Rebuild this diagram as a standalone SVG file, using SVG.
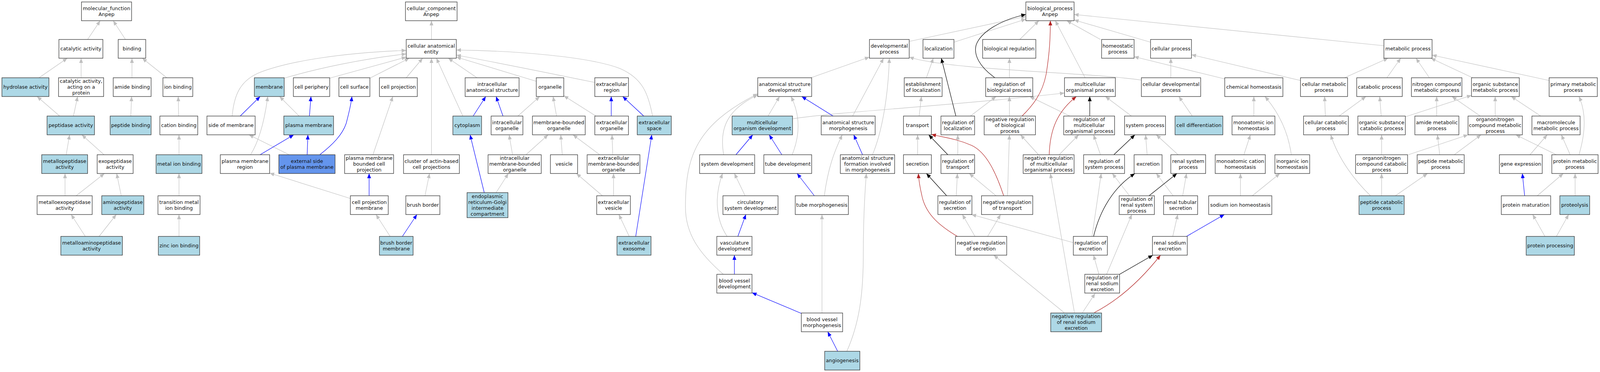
<svg xmlns="http://www.w3.org/2000/svg" width="4183" height="952" viewBox="0 0 4183 952" preserveAspectRatio="none" style="width:100%;height:100%">
<style>
.n rect{stroke:#333;stroke-width:1.3}
.w rect{fill:#fff}.b rect{fill:#add8e6}.c rect{fill:#6495ed}
text{font-family:"DejaVu Sans",sans-serif;font-size:13px;fill:#111;text-anchor:middle}
#edges path{fill:none;stroke-width:1.2}
.g{stroke:#c0c0c0;marker-end:url(#ag)}.u{stroke:#0000ff;marker-end:url(#ab)}.k{stroke:#000;marker-end:url(#ak)}.r{stroke:#b22222;marker-end:url(#ar)}
</style>
<defs>
<marker id="ag" viewBox="0 0 12 10" refX="12" refY="5" markerWidth="12" markerHeight="10" markerUnits="userSpaceOnUse" orient="auto"><path d="M0,0L12,5L0,10z" fill="#c0c0c0"/></marker>
<marker id="ab" viewBox="0 0 12 10" refX="12" refY="5" markerWidth="12" markerHeight="10" markerUnits="userSpaceOnUse" orient="auto"><path d="M0,0L12,5L0,10z" fill="#0000ff"/></marker>
<marker id="ak" viewBox="0 0 12 10" refX="12" refY="5" markerWidth="12" markerHeight="10" markerUnits="userSpaceOnUse" orient="auto"><path d="M0,0L12,5L0,10z" fill="#000"/></marker>
<marker id="ar" viewBox="0 0 12 10" refX="12" refY="5" markerWidth="12" markerHeight="10" markerUnits="userSpaceOnUse" orient="auto"><path d="M0,0L12,5L0,10z" fill="#b22222"/></marker>
</defs>
<rect x="0" y="0" width="4183" height="952" fill="#fff"/>
<g id="edges">
<path class="g" d="M229,101L262,53"/>
<path class="g" d="M328,101L296,53"/>
<path class="g" d="M102,199L176,149"/>
<path class="g" d="M212,198L212,149"/>
<path class="g" d="M345,199L345,149"/>
<path class="g" d="M436,199L372,149"/>
<path class="g" d="M156,297L97,247"/>
<path class="g" d="M192,297L203,247"/>
<path class="g" d="M342,297L344,247"/>
<path class="g" d="M467,297L466,247"/>
<path class="g" d="M173,396L182,345"/>
<path class="g" d="M272,396L214,345"/>
<path class="g" d="M468,396L468,345"/>
<path class="g" d="M170,501L170,444"/>
<path class="g" d="M199,501L273,444"/>
<path class="g" d="M317,501L305,444"/>
<path class="g" d="M468,501L468,444"/>
<path class="g" d="M223,605L186,549"/>
<path class="g" d="M259,605L304,549"/>
<path class="g" d="M468,605L468,549"/>
<path class="g" d="M1128,101L1128,53"/>
<path class="g" d="M607,297C612,240 630,205 680,185C760,155 900,135 1062,129"/>
<path class="g" d="M743,200C830,175 950,150 1062,138"/>
<path class="g" d="M862,200L1062,146"/>
<path class="g" d="M967,200L1070,149"/>
<path class="g" d="M1062,199L1105,149"/>
<path class="g" d="M1128,396L1128,149"/>
<path class="g" d="M1210,297L1141,149"/>
<path class="g" d="M1247,199L1172,149"/>
<path class="g" d="M1402,208L1193,146"/>
<path class="g" d="M1555,211C1450,190 1300,160 1193,141"/>
<path class="g" d="M1706,297C1695,240 1680,200 1620,175C1540,145 1350,130 1193,128"/>
<path class="g" d="M782,297L731,247"/>
<path class="g" d="M655,396C675,365 690,320 700,247"/>
<path class="g" d="M756,396L651,345"/>
<path class="g" d="M975,396L1027,247"/>
<path class="g" d="M916,508L705,443"/>
<path class="g" d="M1111,501L1123,444"/>
<path class="g" d="M1020,605L983,549"/>
<path class="g" d="M1354,297L1411,247"/>
<path class="g" d="M1455,297L1446,247"/>
<path class="g" d="M1558,297L1474,245"/>
<path class="g" d="M1297,493L1329,444"/>
<path class="g" d="M1340,396L1331,345"/>
<path class="g" d="M1375,396L1433,345"/>
<path class="g" d="M1470,396L1466,345"/>
<path class="g" d="M1568,396L1498,345"/>
<path class="g" d="M1602,396L1600,345"/>
<path class="g" d="M1575,501L1507,444"/>
<path class="g" d="M1604,501L1604,444"/>
<path class="g" d="M1645,605L1618,549"/>
<path class="u" d="M628,297L680,247"/>
<path class="u" d="M809,297L813,247"/>
<path class="u" d="M680,396L768,345"/>
<path class="u" d="M803,396L805,345"/>
<path class="u" d="M836,396C870,370 895,345 905,316C912,290 918,265 920,247"/>
<path class="u" d="M965,501L965,444"/>
<path class="u" d="M1052,605L1090,549"/>
<path class="u" d="M1237,297L1270,247"/>
<path class="u" d="M1315,297L1297,247"/>
<path class="u" d="M1266,493L1229,345"/>
<path class="u" d="M1598,297L1598,247"/>
<path class="u" d="M1683,297L1628,247"/>
<path class="u" d="M1662,605L1704,345"/>
<path class="g" d="M2377,106L2682,42"/>
<path class="g" d="M2120,199L2273,146"/>
<path class="g" d="M2229,297L2310,149"/>
<path class="g" d="M2281,396C2305,340 2322,250 2325,149"/>
<path class="g" d="M2984,205C2850,185 2480,180 2377,146"/>
<path class="g" d="M2008,297L2038,247"/>
<path class="g" d="M2072,304C2200,285 2500,270 2783,238"/>
<path class="g" d="M1892,396C1880,330 1900,280 1981,243"/>
<path class="g" d="M1891,702C1830,650 1792,600 1792,530C1792,400 1820,320 1981,240"/>
<path class="g" d="M2071,396C2090,350 2095,300 2068,247"/>
<path class="g" d="M1948,501L1920,444"/>
<path class="g" d="M2155,501C2165,430 2180,390 2202,345"/>
<path class="g" d="M1901,605C1870,560 1868,500 1889,444"/>
<path class="g" d="M2149,801L2149,549"/>
<path class="g" d="M2214,899C2245,830 2257,760 2257,650C2257,540 2262,480 2265,444"/>
<path class="u" d="M1924,396L1968,345"/>
<path class="u" d="M2044,396L2011,345"/>
<path class="u" d="M2178,297L2096,247"/>
<path class="u" d="M2255,396L2232,345"/>
<path class="u" d="M2129,501L2084,444"/>
<path class="u" d="M1929,605L1950,549"/>
<path class="u" d="M1920,702L1920,653"/>
<path class="u" d="M2095,802L1966,749"/>
<path class="u" d="M2190,899L2164,849"/>
<path class="g" d="M2494,108L2682,49"/>
<path class="g" d="M2666,101L2716,53"/>
<path class="g" d="M2837,199L2759,53"/>
<path class="g" d="M2877,101L2789,53"/>
<path class="g" d="M3008,108L2808,51"/>
<path class="g" d="M3618,117L2808,37"/>
<path class="g" d="M2422,199L2440,149"/>
<path class="g" d="M2403,297L2409,247"/>
<path class="g" d="M2639,199L2639,149"/>
<path class="g" d="M2537,297L2604,247"/>
<path class="g" d="M2639,297L2639,247"/>
<path class="g" d="M2797,297L2692,247"/>
<path class="g" d="M2958,297L2890,247"/>
<path class="g" d="M3117,297L3082,247"/>
<path class="g" d="M3061,199L3061,149"/>
<path class="g" d="M3202,202L2965,145"/>
<path class="g" d="M3278,297L3278,247"/>
<path class="g" d="M3400,206L3115,140"/>
<path class="g" d="M2504,396L2504,345"/>
<path class="g" d="M2399,396L2399,345"/>
<path class="g" d="M2604,501L2534,444"/>
<path class="g" d="M2634,501L2639,345"/>
<path class="g" d="M2715,396L2668,345"/>
<path class="g" d="M2769,396L2820,345"/>
<path class="g" d="M2877,396L2859,345"/>
<path class="g" d="M2999,396L2995,345"/>
<path class="g" d="M3080,396L3023,345"/>
<path class="g" d="M3252,396L3269,345"/>
<path class="g" d="M2500,501L2503,444"/>
<path class="g" d="M2953,501L2908,444"/>
<path class="g" d="M3067,501L3023,444"/>
<path class="g" d="M3092,501L3102,444"/>
<path class="g" d="M3243,501L3243,444"/>
<path class="g" d="M3274,501L3346,444"/>
<path class="g" d="M3376,396C3368,340 3345,290 3307,247"/>
<path class="g" d="M2549,605L2516,549"/>
<path class="g" d="M2582,605L2616,549"/>
<path class="g" d="M2806,621L2540,549"/>
<path class="g" d="M2855,605L2879,444"/>
<path class="g" d="M3066,605L3079,549"/>
<path class="g" d="M2873,702L2859,653"/>
<path class="g" d="M2893,702L2959,549"/>
<path class="g" d="M2782,800L2598,653"/>
<path class="g" d="M2809,800L2746,444"/>
<path class="g" d="M2830,800L2863,751"/>
<path class="k" d="M2601,199C2560,170 2545,140 2552,115C2565,80 2620,50 2682,37"/>
<path class="k" d="M2499,297L2461,149"/>
<path class="k" d="M2849,297L2849,247"/>
<path class="k" d="M2478,396L2428,345"/>
<path class="k" d="M2912,396L2967,345"/>
<path class="k" d="M2475,501L2422,444"/>
<path class="k" d="M3004,501L3077,444"/>
<path class="k" d="M2859,605C2875,540 2910,480 2967,444"/>
<path class="k" d="M2927,702L3014,653"/>
<path class="r" d="M2672,297C2700,270 2725,240 2735,190C2745,130 2746,90 2746,53"/>
<path class="r" d="M2624,501C2605,445 2580,390 2540,372C2500,355 2470,352 2435,344"/>
<path class="r" d="M2743,396C2745,330 2765,285 2814,247"/>
<path class="r" d="M2503,605C2460,580 2420,550 2410,500C2404,475 2402,460 2401,444"/>
<path class="r" d="M2861,800C2920,770 2980,720 3034,653"/>
<path class="u" d="M3102,605L3201,549"/>
<path class="g" d="M3515,199L3629,149"/>
<path class="g" d="M3626,199L3662,149"/>
<path class="g" d="M3737,199L3702,149"/>
<path class="g" d="M3850,199L3741,149"/>
<path class="g" d="M4050,206L3744,141"/>
<path class="g" d="M3465,297L3463,247"/>
<path class="g" d="M3501,297L3571,247"/>
<path class="g" d="M3611,297L3607,247"/>
<path class="g" d="M3674,299L3847,244"/>
<path class="g" d="M3756,297L3756,247"/>
<path class="g" d="M3870,297L3796,247"/>
<path class="g" d="M3909,297L3909,247"/>
<path class="g" d="M4028,297L3951,247"/>
<path class="g" d="M3612,396L3612,345"/>
<path class="g" d="M3682,396L3838,345"/>
<path class="g" d="M3764,396L3758,345"/>
<path class="g" d="M3802,396L3872,345"/>
<path class="g" d="M4000,396L4045,345"/>
<path class="g" d="M4069,396L3963,345"/>
<path class="g" d="M4105,396L4082,345"/>
<path class="g" d="M4128,396C4145,340 4148,290 4128,247"/>
<path class="g" d="M3583,501C3545,465 3500,410 3479,345"/>
<path class="g" d="M3612,501L3612,444"/>
<path class="g" d="M3648,501L3732,444"/>
<path class="g" d="M4019,501L4087,444"/>
<path class="g" d="M4118,501L4118,444"/>
<path class="g" d="M4039,605L4007,549"/>
<path class="g" d="M4069,605L4101,549"/>
<path class="u" d="M3986,501L3980,444"/>
</g>
<g id="mf_root" class="n w"><rect x="213" y="5" width="131" height="48"/><text x="278.5" y="26">molecular_function<tspan x="278.5" dy="15">Anpep</tspan></text></g>
<g id="catalytic" class="n w"><rect x="154" y="101" width="115" height="48"/><text x="211.5" y="129.5">catalytic activity</text></g>
<g id="binding" class="n w"><rect x="309" y="101" width="72" height="48"/><text x="345" y="129.5">binding</text></g>
<g id="hydrolase" class="n b"><rect x="5" y="199" width="123" height="48"/><text x="66.5" y="227.5">hydrolase activity</text></g>
<g id="cat_protein" class="n w"><rect x="153" y="199" width="118" height="48"/><text x="212" y="212.5">catalytic activity,<tspan x="212" dy="15">acting on a</tspan><tspan x="212" dy="15">protein</tspan></text></g>
<g id="amide_binding" class="n w"><rect x="296" y="199" width="99" height="48"/><text x="345.5" y="227.5">amide binding</text></g>
<g id="ion_binding" class="n w"><rect x="426" y="199" width="78" height="48"/><text x="465" y="227.5">ion binding</text></g>
<g id="peptidase" class="n b"><rect x="123" y="297" width="124" height="48"/><text x="185" y="325.5">peptidase activity</text></g>
<g id="peptide_binding" class="n b"><rect x="288" y="297" width="107" height="48"/><text x="341.5" y="325.5">peptide binding</text></g>
<g id="cation_binding" class="n w"><rect x="418" y="297" width="99" height="48"/><text x="467.5" y="325.5">cation binding</text></g>
<g id="metallopeptidase" class="n b"><rect x="109" y="396" width="120" height="48"/><text x="169" y="417">metallopeptidase<tspan x="169" dy="15">activity</tspan></text></g>
<g id="exopeptidase" class="n w"><rect x="254" y="396" width="94" height="48"/><text x="301" y="417">exopeptidase<tspan x="301" dy="15">activity</tspan></text></g>
<g id="metal_ion_binding" class="n b"><rect x="408" y="396" width="120" height="48"/><text x="468" y="424.5">metal ion binding</text></g>
<g id="metalloexopeptidase" class="n w"><rect x="97" y="501" width="144" height="48"/><text x="169" y="522">metalloexopeptidase<tspan x="169" dy="15">activity</tspan></text></g>
<g id="aminopeptidase" class="n b"><rect x="266" y="501" width="110" height="48"/><text x="321" y="522">aminopeptidase<tspan x="321" dy="15">activity</tspan></text></g>
<g id="transition_metal" class="n w"><rect x="413" y="501" width="110" height="48"/><text x="468" y="522">transition metal<tspan x="468" dy="15">ion binding</tspan></text></g>
<g id="metalloaminopeptidase" class="n b"><rect x="159" y="605" width="161" height="48"/><text x="239.5" y="626">metalloaminopeptidase<tspan x="239.5" dy="15">activity</tspan></text></g>
<g id="zinc" class="n b"><rect x="414" y="605" width="108" height="48"/><text x="468" y="633.5">zinc ion binding</text></g>
<g id="cc_root" class="n w"><rect x="1060" y="5" width="135" height="48"/><text x="1127.5" y="26">cellular_component<tspan x="1127.5" dy="15">Anpep</tspan></text></g>
<g id="cae" class="n w"><rect x="1062" y="101" width="131" height="48"/><text x="1127.5" y="122">cellular anatomical<tspan x="1127.5" dy="15">entity</tspan></text></g>
<g id="membrane" class="n b"><rect x="665" y="199" width="78" height="48"/><text x="704" y="227.5">membrane</text></g>
<g id="cell_periphery" class="n w"><rect x="767" y="199" width="95" height="48"/><text x="814.5" y="227.5">cell periphery</text></g>
<g id="cell_surface" class="n w"><rect x="886" y="199" width="81" height="48"/><text x="926.5" y="227.5">cell surface</text></g>
<g id="cell_projection" class="n w"><rect x="992" y="199" width="99" height="48"/><text x="1041.5" y="227.5">cell projection</text></g>
<g id="ias" class="n w"><rect x="1216" y="199" width="141" height="48"/><text x="1286.5" y="220">intracellular<tspan x="1286.5" dy="15">anatomical structure</tspan></text></g>
<g id="organelle" class="n w"><rect x="1402" y="199" width="72" height="48"/><text x="1438" y="227.5">organelle</text></g>
<g id="extracellular_region" class="n w"><rect x="1555" y="199" width="88" height="48"/><text x="1599" y="220">extracellular<tspan x="1599" dy="15">region</tspan></text></g>
<g id="side_of_membrane" class="n w"><rect x="541" y="297" width="126" height="48"/><text x="604" y="325.5">side of membrane</text></g>
<g id="plasma_membrane" class="n b"><rect x="742" y="297" width="130" height="48"/><text x="807" y="325.5">plasma membrane</text></g>
<g id="cytoplasm" class="n b"><rect x="1184" y="297" width="75" height="48"/><text x="1221.5" y="325.5">cytoplasm</text></g>
<g id="intracellular_organelle" class="n w"><rect x="1284" y="297" width="83" height="48"/><text x="1325.5" y="318">intracellular<tspan x="1325.5" dy="15">organelle</tspan></text></g>
<g id="mbo" class="n w"><rect x="1392" y="297" width="138" height="48"/><text x="1461" y="318">membrane-bounded<tspan x="1461" dy="15">organelle</tspan></text></g>
<g id="extracellular_organelle" class="n w"><rect x="1555" y="297" width="88" height="48"/><text x="1599" y="318">extracellular<tspan x="1599" dy="15">organelle</tspan></text></g>
<g id="extracellular_space" class="n b"><rect x="1666" y="297" width="89" height="48"/><text x="1710.5" y="318">extracellular<tspan x="1710.5" dy="15">space</tspan></text></g>
<g id="pm_region" class="n w"><rect x="576" y="396" width="129" height="48"/><text x="640.5" y="417">plasma membrane<tspan x="640.5" dy="15">region</tspan></text></g>
<g id="external_side" class="n c"><rect x="729" y="396" width="147" height="48"/><text x="802.5" y="417">external side<tspan x="802.5" dy="15">of plasma membrane</tspan></text></g>
<g id="pmbcp" class="n w"><rect x="901" y="396" width="128" height="48"/><text x="965" y="409.5">plasma membrane<tspan x="965" dy="15">bounded cell</tspan><tspan x="965" dy="15">projection</tspan></text></g>
<g id="cluster" class="n w"><rect x="1055" y="396" width="146" height="48"/><text x="1128" y="417">cluster of actin-based<tspan x="1128" dy="15">cell projections</tspan></text></g>
<g id="imbo" class="n w"><rect x="1276" y="396" width="139" height="48"/><text x="1345.5" y="409.5">intracellular<tspan x="1345.5" dy="15">membrane-bounded</tspan><tspan x="1345.5" dy="15">organelle</tspan></text></g>
<g id="vesicle" class="n w"><rect x="1439" y="396" width="71" height="48"/><text x="1474.5" y="424.5">vesicle</text></g>
<g id="embo" class="n w"><rect x="1535" y="396" width="138" height="48"/><text x="1604" y="409.5">extracellular<tspan x="1604" dy="15">membrane-bounded</tspan><tspan x="1604" dy="15">organelle</tspan></text></g>
<g id="cp_membrane" class="n w"><rect x="916" y="501" width="99" height="48"/><text x="965.5" y="522">cell projection<tspan x="965.5" dy="15">membrane</tspan></text></g>
<g id="brush_border" class="n w"><rect x="1061" y="501" width="89" height="48"/><text x="1105.5" y="529.5">brush border</text></g>
<g id="ergic" class="n b"><rect x="1221" y="493" width="107" height="64"/><text x="1274.5" y="507">endoplasmic<tspan x="1274.5" dy="15">reticulum-Golgi</tspan><tspan x="1274.5" dy="15">intermediate</tspan><tspan x="1274.5" dy="15">compartment</tspan></text></g>
<g id="extracellular_vesicle" class="n w"><rect x="1560" y="501" width="88" height="48"/><text x="1604" y="522">extracellular<tspan x="1604" dy="15">vesicle</tspan></text></g>
<g id="bbm" class="n b"><rect x="992" y="605" width="88" height="48"/><text x="1036" y="626">brush border<tspan x="1036" dy="15">membrane</tspan></text></g>
<g id="exosome" class="n b"><rect x="1613" y="605" width="89" height="48"/><text x="1657.5" y="626">extracellular<tspan x="1657.5" dy="15">exosome</tspan></text></g>
<g id="bp_root" class="n w"><rect x="2682" y="5" width="126" height="48"/><text x="2745" y="26">biological_process<tspan x="2745" dy="15">Anpep</tspan></text></g>
<g id="developmental" class="n w"><rect x="2273" y="101" width="104" height="48"/><text x="2325" y="122">developmental<tspan x="2325" dy="15">process</tspan></text></g>
<g id="localization" class="n w"><rect x="2413" y="101" width="81" height="48"/><text x="2453.5" y="129.5">localization</text></g>
<g id="bio_reg" class="n w"><rect x="2569" y="101" width="139" height="48"/><text x="2638.5" y="129.5">biological regulation</text></g>
<g id="homeostatic" class="n w"><rect x="2880" y="101" width="85" height="48"/><text x="2922.5" y="122">homeostatic<tspan x="2922.5" dy="15">process</tspan></text></g>
<g id="cellular_process" class="n w"><rect x="3008" y="101" width="107" height="48"/><text x="3061.5" y="129.5">cellular process</text></g>
<g id="metabolic" class="n w"><rect x="3618" y="101" width="126" height="48"/><text x="3681" y="129.5">metabolic process</text></g>
<g id="asd" class="n w"><rect x="1981" y="199" width="141" height="48"/><text x="2051.5" y="220">anatomical structure<tspan x="2051.5" dy="15">development</tspan></text></g>
<g id="est_loc" class="n w"><rect x="2364" y="199" width="99" height="48"/><text x="2413.5" y="220">establishment<tspan x="2413.5" dy="15">of localization</tspan></text></g>
<g id="reg_bp" class="n w"><rect x="2577" y="199" width="123" height="48"/><text x="2638.5" y="220">regulation of<tspan x="2638.5" dy="15">biological process</tspan></text></g>
<g id="mop" class="n w"><rect x="2783" y="199" width="133" height="48"/><text x="2849.5" y="220">multicellular<tspan x="2849.5" dy="15">organismal process</tspan></text></g>
<g id="cdp" class="n w"><rect x="2984" y="199" width="155" height="48"/><text x="3061.5" y="220">cellular developmental<tspan x="3061.5" dy="15">process</tspan></text></g>
<g id="chem_homeo" class="n w"><rect x="3202" y="199" width="152" height="48"/><text x="3278" y="227.5">chemical homeostasis</text></g>
<g id="cell_metab" class="n w"><rect x="3400" y="199" width="123" height="48"/><text x="3461.5" y="220">cellular metabolic<tspan x="3461.5" dy="15">process</tspan></text></g>
<g id="catabolic" class="n w"><rect x="3547" y="199" width="119" height="48"/><text x="3606.5" y="227.5">catabolic process</text></g>
<g id="ncmp" class="n w"><rect x="3690" y="199" width="132" height="48"/><text x="3756" y="220">nitrogen compound<tspan x="3756" dy="15">metabolic process</tspan></text></g>
<g id="osmp" class="n w"><rect x="3847" y="199" width="125" height="48"/><text x="3909.5" y="220">organic substance<tspan x="3909.5" dy="15">metabolic process</tspan></text></g>
<g id="primary" class="n w"><rect x="4050" y="199" width="126" height="48"/><text x="4113" y="220">primary metabolic<tspan x="4113" dy="15">process</tspan></text></g>
<g id="mod" class="n b"><rect x="1914" y="297" width="158" height="48"/><text x="1993" y="318">multicellular<tspan x="1993" dy="15">organism development</tspan></text></g>
<g id="asm" class="n w"><rect x="2147" y="297" width="141" height="48"/><text x="2217.5" y="318">anatomical structure<tspan x="2217.5" dy="15">morphogenesis</tspan></text></g>
<g id="transport" class="n w"><rect x="2362" y="297" width="73" height="48"/><text x="2398.5" y="325.5">transport</text></g>
<g id="reg_loc" class="n w"><rect x="2460" y="297" width="88" height="48"/><text x="2504" y="318">regulation of<tspan x="2504" dy="15">localization</tspan></text></g>
<g id="nrbp" class="n w"><rect x="2573" y="297" width="134" height="48"/><text x="2640" y="310.5">negative regulation<tspan x="2640" dy="15">of biological</tspan><tspan x="2640" dy="15">process</tspan></text></g>
<g id="rmop" class="n w"><rect x="2781" y="297" width="133" height="48"/><text x="2847.5" y="310.5">regulation of<tspan x="2847.5" dy="15">multicellular</tspan><tspan x="2847.5" dy="15">organismal process</tspan></text></g>
<g id="system_process" class="n w"><rect x="2940" y="297" width="107" height="48"/><text x="2993.5" y="325.5">system process</text></g>
<g id="cell_diff" class="n b"><rect x="3072" y="297" width="125" height="48"/><text x="3134.5" y="325.5">cell differentiation</text></g>
<g id="mih" class="n w"><rect x="3221" y="297" width="112" height="48"/><text x="3277" y="318">monoatomic ion<tspan x="3277" dy="15">homeostasis</tspan></text></g>
<g id="ccp" class="n w"><rect x="3408" y="297" width="117" height="48"/><text x="3466.5" y="318">cellular catabolic<tspan x="3466.5" dy="15">process</tspan></text></g>
<g id="oscp" class="n w"><rect x="3550" y="297" width="124" height="48"/><text x="3612" y="318">organic substance<tspan x="3612" dy="15">catabolic process</tspan></text></g>
<g id="amp" class="n w"><rect x="3699" y="297" width="115" height="48"/><text x="3756.5" y="318">amide metabolic<tspan x="3756.5" dy="15">process</tspan></text></g>
<g id="oncmp" class="n w"><rect x="3838" y="297" width="142" height="48"/><text x="3909" y="310.5">organonitrogen<tspan x="3909" dy="15">compound metabolic</tspan><tspan x="3909" dy="15">process</tspan></text></g>
<g id="mmp" class="n w"><rect x="4005" y="297" width="126" height="48"/><text x="4068" y="318">macromolecule<tspan x="4068" dy="15">metabolic process</tspan></text></g>
<g id="sys_dev" class="n w"><rect x="1829" y="396" width="144" height="48"/><text x="1901" y="424.5">system development</text></g>
<g id="tube_dev" class="n w"><rect x="1997" y="396" width="125" height="48"/><text x="2059.5" y="424.5">tube development</text></g>
<g id="asfim" class="n w"><rect x="2197" y="396" width="142" height="48"/><text x="2268" y="409.5">anatomical structure<tspan x="2268" dy="15">formation involved</tspan><tspan x="2268" dy="15">in morphogenesis</tspan></text></g>
<g id="secretion" class="n w"><rect x="2362" y="396" width="73" height="48"/><text x="2398.5" y="424.5">secretion</text></g>
<g id="reg_transport" class="n w"><rect x="2460" y="396" width="88" height="48"/><text x="2504" y="417">regulation of<tspan x="2504" dy="15">transport</tspan></text></g>
<g id="nrmop" class="n w"><rect x="2675" y="396" width="133" height="48"/><text x="2741.5" y="409.5">negative regulation<tspan x="2741.5" dy="15">of multicellular</tspan><tspan x="2741.5" dy="15">organismal process</tspan></text></g>
<g id="rsp" class="n w"><rect x="2833" y="396" width="107" height="48"/><text x="2886.5" y="417">regulation of<tspan x="2886.5" dy="15">system process</tspan></text></g>
<g id="excretion" class="n w"><rect x="2965" y="396" width="73" height="48"/><text x="3001.5" y="424.5">excretion</text></g>
<g id="renal_sp" class="n w"><rect x="3061" y="396" width="91" height="48"/><text x="3106.5" y="417">renal system<tspan x="3106.5" dy="15">process</tspan></text></g>
<g id="mch" class="n w"><rect x="3177" y="396" width="131" height="48"/><text x="3242.5" y="417">monoatomic cation<tspan x="3242.5" dy="15">homeostasis</tspan></text></g>
<g id="iih" class="n w"><rect x="3333" y="396" width="91" height="48"/><text x="3378.5" y="417">inorganic ion<tspan x="3378.5" dy="15">homeostasis</tspan></text></g>
<g id="onccp" class="n w"><rect x="3544" y="396" width="136" height="48"/><text x="3612" y="409.5">organonitrogen<tspan x="3612" dy="15">compound catabolic</tspan><tspan x="3612" dy="15">process</tspan></text></g>
<g id="pmp" class="n w"><rect x="3705" y="396" width="123" height="48"/><text x="3766.5" y="417">peptide metabolic<tspan x="3766.5" dy="15">process</tspan></text></g>
<g id="gene_expr" class="n w"><rect x="3920" y="396" width="112" height="48"/><text x="3976" y="424.5">gene expression</text></g>
<g id="protein_mp" class="n w"><rect x="4057" y="396" width="121" height="48"/><text x="4117.5" y="417">protein metabolic<tspan x="4117.5" dy="15">process</tspan></text></g>
<g id="csd" class="n w"><rect x="1890" y="501" width="144" height="48"/><text x="1962" y="522">circulatory<tspan x="1962" dy="15">system development</tspan></text></g>
<g id="tube_morph" class="n w"><rect x="2079" y="501" width="139" height="48"/><text x="2148.5" y="529.5">tube morphogenesis</text></g>
<g id="reg_secretion" class="n w"><rect x="2452" y="501" width="89" height="48"/><text x="2496.5" y="522">regulation of<tspan x="2496.5" dy="15">secretion</tspan></text></g>
<g id="nrt" class="n w"><rect x="2566" y="501" width="134" height="48"/><text x="2633" y="522">negative regulation<tspan x="2633" dy="15">of transport</tspan></text></g>
<g id="rrsp" class="n w"><rect x="2926" y="501" width="92" height="48"/><text x="2972" y="514.5">regulation of<tspan x="2972" dy="15">renal system</tspan><tspan x="2972" dy="15">process</tspan></text></g>
<g id="rts" class="n w"><rect x="3042" y="501" width="89" height="48"/><text x="3086.5" y="522">renal tubular<tspan x="3086.5" dy="15">secretion</tspan></text></g>
<g id="sih" class="n w"><rect x="3160" y="501" width="165" height="48"/><text x="3242.5" y="529.5">sodium ion homeostasis</text></g>
<g id="pcp" class="n b"><rect x="3553" y="501" width="118" height="48"/><text x="3612" y="522">peptide catabolic<tspan x="3612" dy="15">process</tspan></text></g>
<g id="protein_mat" class="n w"><rect x="3925" y="501" width="129" height="48"/><text x="3989.5" y="529.5">protein maturation</text></g>
<g id="proteolysis" class="n b"><rect x="4078" y="501" width="78" height="48"/><text x="4117" y="529.5">proteolysis</text></g>
<g id="vasc_dev" class="n w"><rect x="1874" y="605" width="92" height="48"/><text x="1920" y="626">vasculature<tspan x="1920" dy="15">development</tspan></text></g>
<g id="nrs" class="n w"><rect x="2498" y="605" width="134" height="48"/><text x="2565" y="626">negative regulation<tspan x="2565" dy="15">of secretion</tspan></text></g>
<g id="reg_excretion" class="n w"><rect x="2806" y="605" width="89" height="48"/><text x="2850.5" y="626">regulation of<tspan x="2850.5" dy="15">excretion</tspan></text></g>
<g id="rse" class="n w"><rect x="3013" y="605" width="91" height="48"/><text x="3058.5" y="626">renal sodium<tspan x="3058.5" dy="15">excretion</tspan></text></g>
<g id="protein_proc" class="n b"><rect x="3990" y="605" width="126" height="48"/><text x="4053" y="633.5">protein processing</text></g>
<g id="bvd" class="n w"><rect x="1874" y="702" width="92" height="48"/><text x="1920" y="723">blood vessel<tspan x="1920" dy="15">development</tspan></text></g>
<g id="rrse" class="n w"><rect x="2836" y="702" width="91" height="48"/><text x="2881.5" y="715.5">regulation of<tspan x="2881.5" dy="15">renal sodium</tspan><tspan x="2881.5" dy="15">excretion</tspan></text></g>
<g id="bvm" class="n w"><rect x="2095" y="801" width="108" height="48"/><text x="2149" y="822">blood vessel<tspan x="2149" dy="15">morphogenesis</tspan></text></g>
<g id="nrrse" class="n b"><rect x="2747" y="801" width="133" height="48"/><text x="2813.5" y="814.5">negative regulation<tspan x="2813.5" dy="15">of renal sodium</tspan><tspan x="2813.5" dy="15">excretion</tspan></text></g>
<g id="angiogenesis" class="n b"><rect x="2156" y="899" width="92" height="48"/><text x="2202" y="927.5">angiogenesis</text></g>
</svg>
